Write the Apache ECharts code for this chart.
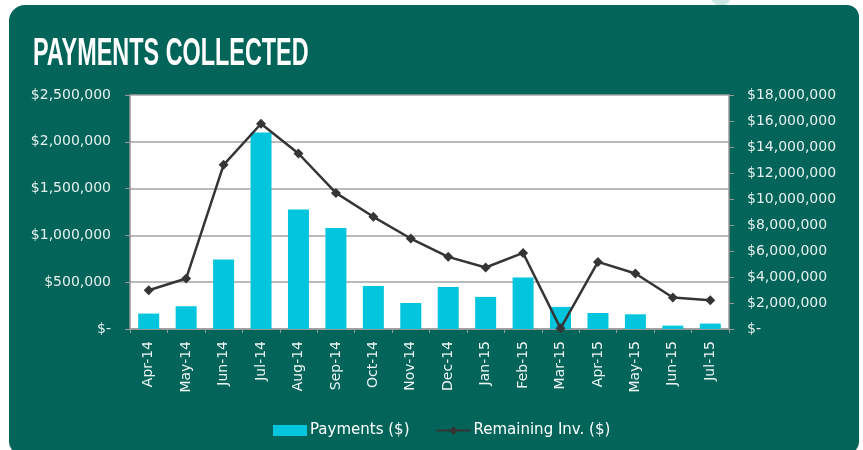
<!DOCTYPE html>
<html>
<head>
<meta charset="utf-8">
<script src="https://cdn.jsdelivr.net/npm/echarts@6/dist/echarts.min.js"></script>
<style>
  html, body { margin: 0; padding: 0; background: #fff; }
  #chart { width: 863px; height: 450px; }
</style>
</head>
<body>
<div id="chart"></div>
<script>
// categories (months)
var months = ['Apr-14', 'May-14', 'Jun-14', 'Jul-14', 'Aug-14', 'Sep-14', 'Oct-14', 'Nov-14',
  'Dec-14', 'Jan-15', 'Feb-15', 'Mar-15', 'Apr-15', 'May-15', 'Jun-15', 'Jul-15'];
// monthly payments (left axis)
var payments = [165000, 243000, 743000, 2100000, 1278000, 1078000, 460000, 278000,
  450000, 343000, 550000, 236000, 171000, 157000, 36000, 58000];
// remaining inventory (right axis)
var remainingInv = [2980000, 3880000, 12630000, 15790000, 13500000, 10470000, 8630000, 6960000,
  5550000, 4730000, 5850000, 50000, 5160000, 4270000, 2420000, 2210000];

var cardColor = '#03655a';
var labelFont = 'DejaVu Sans';

function money(v) {
  if (v === 0) return '$-';
  return '$' + v.toLocaleString('en-US');
}

var chart = echarts.init(document.getElementById('chart'));

var option = {
  backgroundColor: '#ffffff',
  animation: false,
  graphic: [
    {
      type: 'circle', z: -20,
      shape: { cx: 721, cy: -4, r: 10 },
      style: { fill: '#cde7e2' }
    },
    {
      type: 'rect', z: -10,
      shape: { x: 9, y: 5, width: 850, height: 449, r: [16, 12, 12, 12] },
      style: { fill: cardColor }
    },
    {
      type: 'text', z: 10,
      x: 33, y: 54, scaleX: 0.6,
      style: {
        text: 'PAYMENTS COLLECTED',
        fill: '#ffffff',
        font: 'bold 39px "Liberation Sans", Arial, sans-serif',
        verticalAlign: 'middle'
      }
    }
  ],
  grid: {
    left: 130, right: 134, top: 95, bottom: 121,
    show: true, backgroundColor: '#ffffff', borderWidth: 0
  },
  legend: {
    left: 268, top: 418,
    itemGap: 26, itemWidth: 34, itemHeight: 11,
    textStyle: { color: '#ffffff', fontSize: 15, fontFamily: labelFont, padding: [0, 0, 0, -2] },
    data: [
      { name: 'Payments ($)', icon: 'rect' },
      { name: 'Remaining Inv. ($)' }
    ]
  },
  xAxis: {
    type: 'category',
    data: months,
    axisLine: { lineStyle: { color: '#9a9a9a', width: 1.5 } },
    axisTick: { show: true, length: 4, lineStyle: { color: '#9a9a9a' } },
    axisLabel: {
      rotate: 90, margin: 12, interval: 0,
      color: '#eef4f3', fontSize: 14, fontFamily: labelFont
    }
  },
  yAxis: [
    {
      type: 'value', min: 0, max: 2500000, interval: 500000,
      axisLine: { show: true, lineStyle: { color: '#9a9a9a', width: 1.5 } },
      axisTick: { show: true, length: 5, lineStyle: { color: '#9a9a9a' } },
      splitLine: { lineStyle: { color: '#a3a3a3', width: 1.5 } },
      axisLabel: {
        margin: 19, formatter: money,
        color: '#e6efed', fontSize: 14, fontFamily: labelFont
      }
    },
    {
      type: 'value', min: 0, max: 18000000, interval: 2000000,
      position: 'right',
      axisLine: { show: true, lineStyle: { color: '#9a9a9a', width: 1.5 } },
      axisTick: { show: true, length: 5, lineStyle: { color: '#9a9a9a' } },
      splitLine: { show: false },
      axisLabel: {
        margin: 18, formatter: money,
        color: '#e6efed', fontSize: 14, fontFamily: labelFont
      }
    }
  ],
  series: [
    {
      name: 'Payments ($)',
      type: 'bar',
      data: payments,
      barWidth: 21,
      itemStyle: { color: '#03c5de' }
    },
    {
      name: 'Remaining Inv. ($)',
      type: 'line',
      yAxisIndex: 1,
      data: remainingInv,
      symbol: 'diamond',
      symbolSize: 10,
      lineStyle: { color: '#353535', width: 2.5 },
      itemStyle: { color: '#353535' }
    }
  ]
};

chart.setOption(option);
</script>
</body>
</html>
